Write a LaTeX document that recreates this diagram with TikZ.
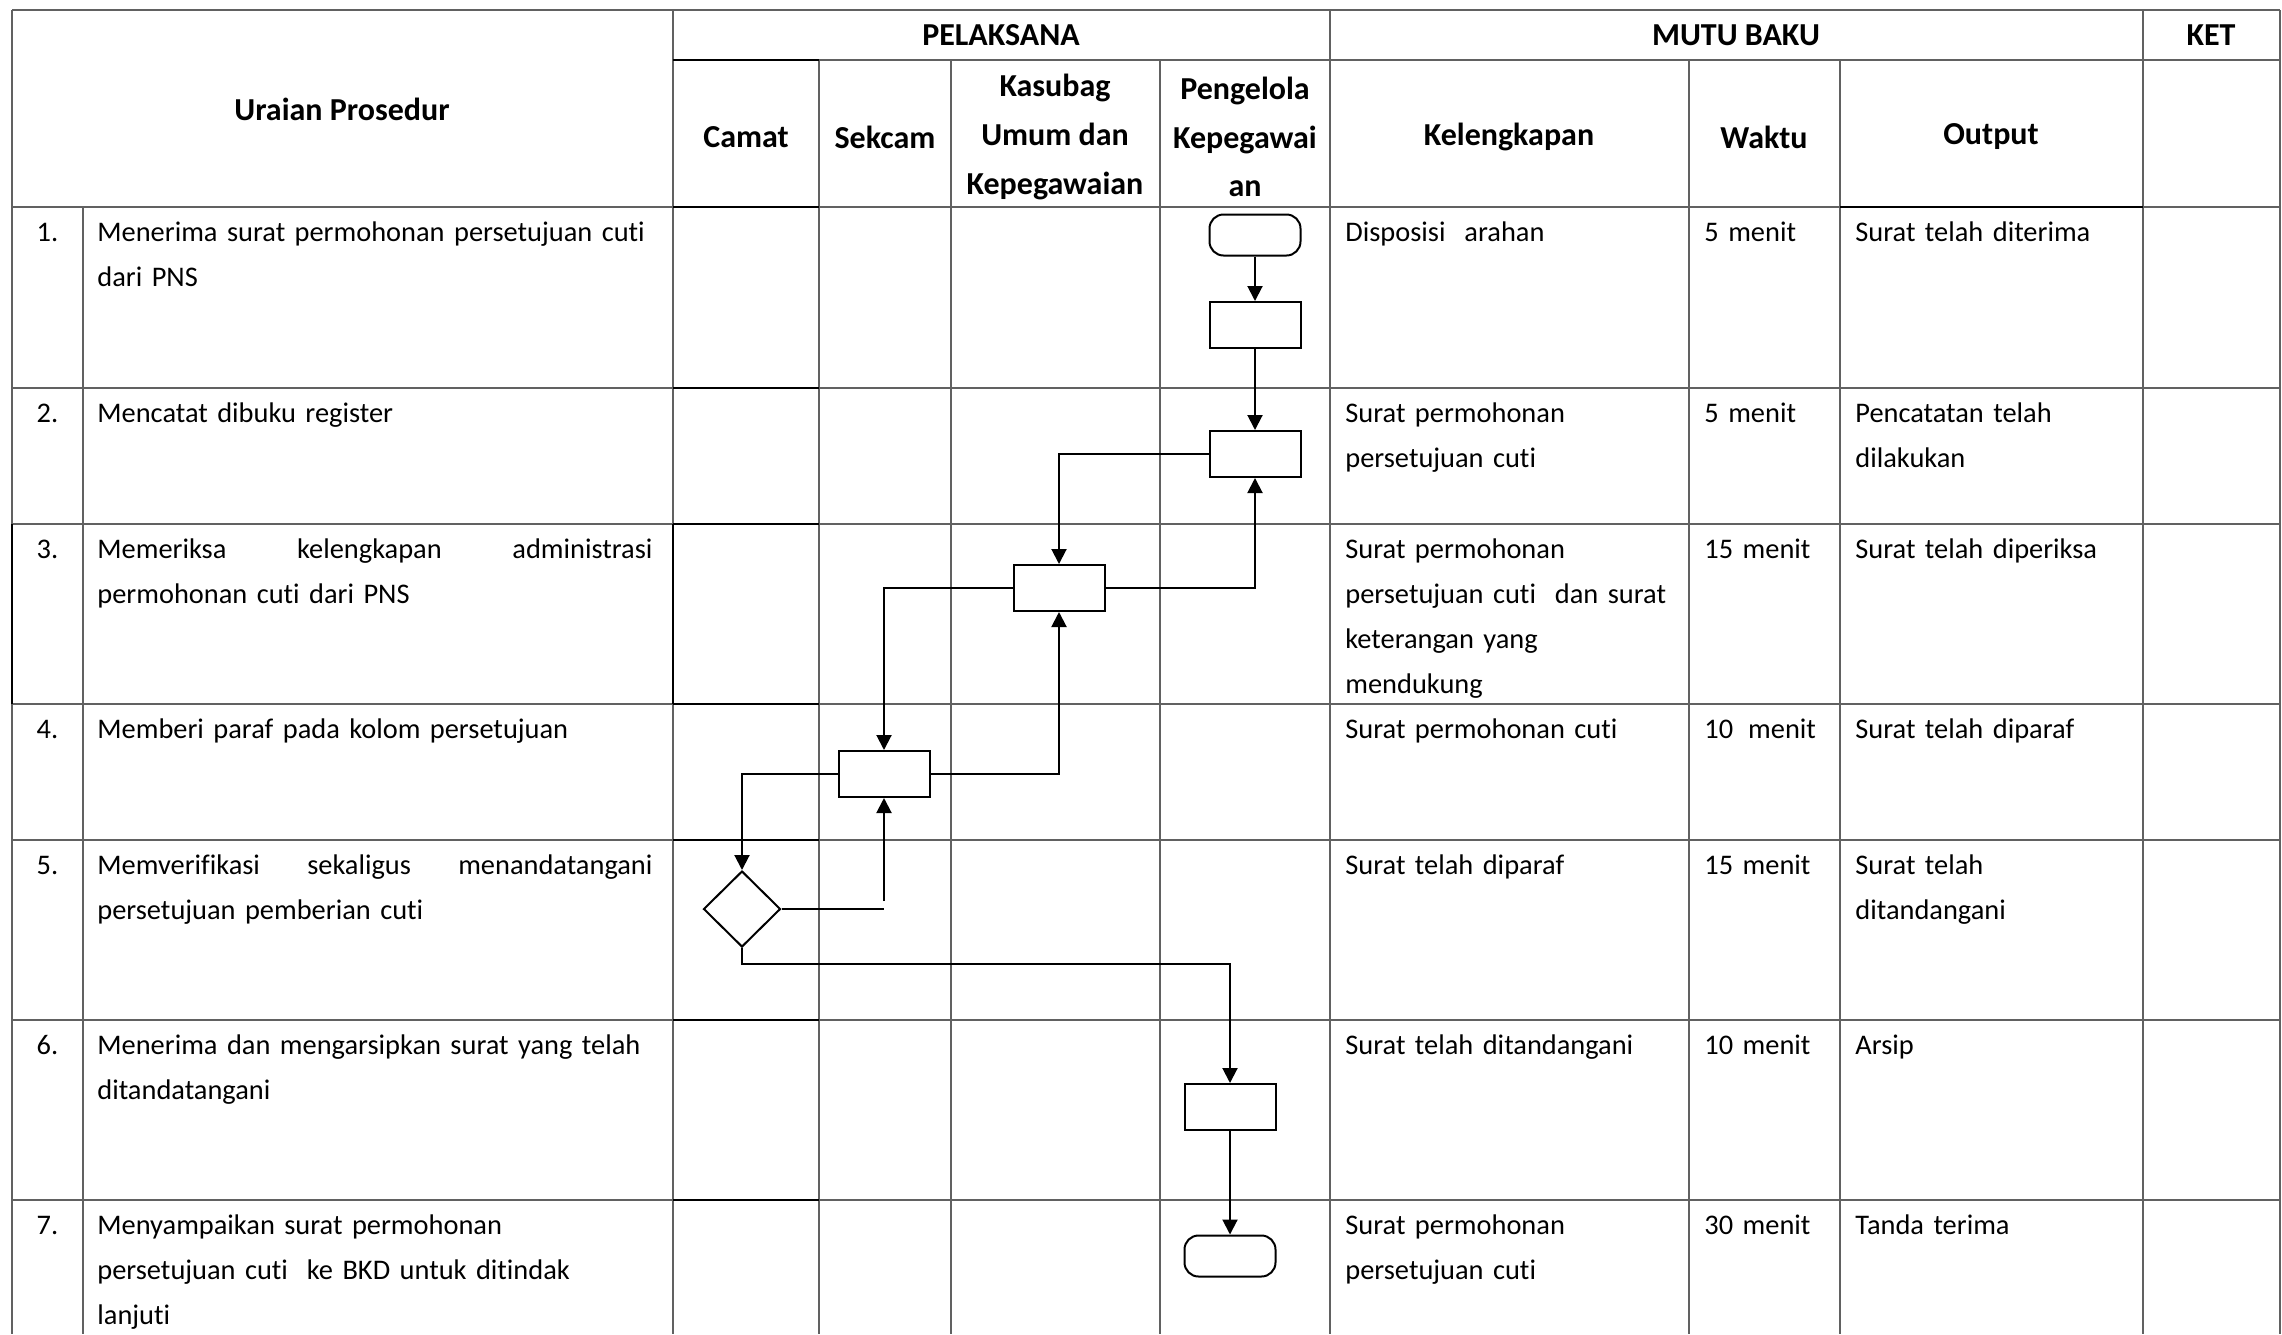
\documentclass[tikz,border=0pt]{standalone}
\usepackage{fontspec}
\setmainfont{Carlito}[Ligatures=CommonOff]
\usepackage{tikz}
\usetikzlibrary{arrows.meta, shapes.geometric}

\newcommand{\isi}{\fontsize{14.2pt}{22.5pt}\selectfont}
\newcommand{\kepala}{\bfseries\fontsize{16pt}{24.3pt}\selectfont}

\begin{document}
\begin{tikzpicture}[x=0.5pt, y=-0.5pt,
    garis/.style={draw=black!62, line width=0.7pt},
    tebal/.style={draw=black, line width=1.3pt},
    judul/.style={align=center, inner sep=0pt, font=\kepala},
    sel/.style={anchor=base west, inner sep=0pt, align=left, font=\isi},
    nomor/.style={anchor=base, inner sep=0pt, font=\isi},
    proses/.style={draw, line width=1pt, minimum width=45.5pt, minimum height=23pt, inner sep=0pt},
    terminal/.style={proses, rounded corners=7pt, minimum height=20.5pt},
    keputusan/.style={draw, diamond, line width=1pt, minimum width=38.5pt, minimum height=38pt, inner sep=0pt},
    alur/.style={line width=1pt, -{Triangle[length=7.5pt, width=7.5pt]}},
    garisalur/.style={line width=1pt}]
  \useasboundingbox (0,0) rectangle (2282,1334);

  % garis tabel
  \draw[garis] (12,10) -- (2280,10);
  \draw[garis] (673,60) -- (2280,60);
  \foreach \y in {207,388,524,704,840,1020,1200}
    \draw[garis] (12,\y) -- (2280,\y);
  \foreach \x in {12,673,1330,2143,2280}
    \draw[garis] (\x,10) -- (\x,1334);
  \foreach \x in {819,951,1160,1689,1840}
    \draw[garis] (\x,60) -- (\x,1334);
  \draw[garis] (83,207) -- (83,1334);
  \foreach \y in {60,207,388,524,704,840,1020,1200}
    \draw[tebal] (673,\y) -- (819,\y);
  \draw[tebal] (673,524) -- (673,704);
  \draw[tebal] (12,524) -- (12,704);
  \draw[tebal] (1840,207) -- (2143,207);

  % kepala tabel
  \node[judul] (kolUraian) at (342,109) {Uraian Prosedur};
  \node[judul] (kolPelaksana) at (1001,35) {PELAKSANA};
  \node[judul] (kolMutu) at (1736,35) {MUTU BAKU};
  \node[judul] (kolKet) at (2211,35) {KET};
  \node[judul] (kolCamat) at (746,137) {Camat};
  \node[judul] (kolSekcam) at (885,137) {Sekcam};
  \node[judul] (kolKasubag) at (1055,137) {Kasubag\\Umum dan\\Kepegawaian};
  \node[judul] (kolPengelola) at (1245,137) {Pengelola\\Kepegawai\\an};
  \node[judul] (kolKelengkapan) at (1509,137) {Kelengkapan};
  \node[judul] (kolWaktu) at (1764,137) {Waktu};
  \node[judul] (kolOutput) at (1991,137) {Output};

  % isi tabel
  \foreach \n/\y/\ura/\kel/\wkt/\out in {
    1/241/{Menerima surat permohonan persetujuan cuti\\dari PNS}/{Disposisi\ \ arahan}/{5 menit}/{Surat telah diterima},
    2/422/{Mencatat dibuku register}/{Surat permohonan\\persetujuan cuti}/{5 menit}/{Pencatatan telah\\dilakukan},
    3/558/{Memeriksa\hfill kelengkapan\hfill administrasi\\permohonan cuti dari PNS}/{Surat permohonan\\persetujuan cuti\ \ dan surat\\keterangan yang\\mendukung}/{15 menit}/{Surat telah diperiksa},
    4/738/{Memberi paraf pada kolom persetujuan}/{Surat permohonan cuti}/{10\hspace{7.5pt}menit}/{Surat telah diparaf},
    5/874/{Memverifikasi\hfill sekaligus\hfill menandatangani\\persetujuan pemberian cuti}/{Surat telah diparaf}/{15 menit}/{Surat telah\\ditandangani},
    6/1054/{Menerima dan mengarsipkan surat yang telah\\ditandatangani}/{Surat telah ditandangani}/{10 menit}/{Arsip},
    7/1234/{Menyampaikan surat permohonan\\persetujuan cuti\ \ ke BKD untuk ditindak\\lanjuti}/{Surat permohonan\\persetujuan cuti}/{30 menit}/{Tanda terima}}
  {
    \node[nomor] (no\n) at (47.5,\y) {\n.};
    \node[sel, text width=277.5pt] (uraian\n) at (97,\y) {\ura};
    \node[sel, text width=165pt] (kel\n) at (1345,\y) {\kel};
    \node[sel, text width=65pt] (waktu\n) at (1704,\y) {\wkt};
    \node[sel, text width=140pt] (out\n) at (1855,\y) {\out};
  }

  % bagan alir
  \node[terminal] (mulai) at (1255,235) {};
  \node[proses] (terima) at (1255,325) {};
  \node[proses] (catat) at (1255,454) {};
  \node[proses] (periksa) at (1059,588) {};
  \node[proses] (paraf) at (884,774) {};
  \node[keputusan] (verifikasi) at (742,909) {};
  \node[proses] (arsip) at (1230,1107) {};
  \node[terminal] (selesai) at (1230,1256) {};

  \draw[alur] (mulai) -- (terima);
  \draw[alur] (terima) -- (catat);
  \draw[alur] (catat.west) -| (periksa.north);
  \draw[alur] (periksa.east) -| (catat.south);
  \draw[alur] (periksa.west) -| (paraf.north);
  \draw[alur] (paraf.east) -| (periksa.south);
  \draw[alur] (paraf.west) -| (verifikasi.north);
  \coordinate (siku) at (verifikasi.east -| paraf.south);
  \draw[garisalur] (verifikasi.east) -- (siku);
  \draw[alur] ([yshift=4pt]siku) -- (paraf.south);
  \draw[alur] (verifikasi.south) -- ++(0,16) -| (arsip.north);
  \draw[alur] (arsip) -- (selesai);
\end{tikzpicture}
\end{document}
